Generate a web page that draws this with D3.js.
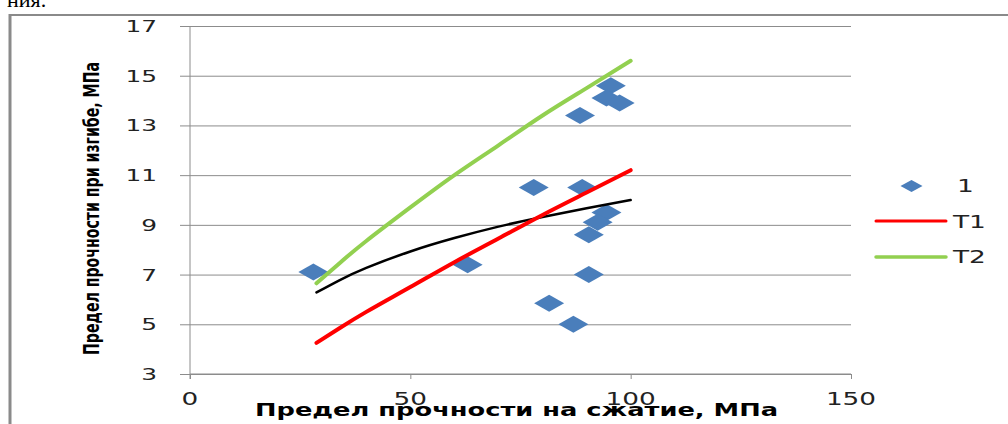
<!DOCTYPE html>
<html>
<head>
<meta charset="utf-8">
<script src="https://cdn.jsdelivr.net/npm/d3@7"></script>
<style>
  html, body { margin: 0; padding: 0; background: #fff; overflow: hidden; }
  svg { display: block; }
</style>
</head>
<body>
<svg id="chart" width="1008" height="424"></svg>
<script>
// Measured samples: compressive strength (x) vs bending strength (y), MPa
const sampleX = [28, 63, 78, 89, 94.5, 92.5, 90.5, 90.5, 81.5, 87, 95.5, 94.5, 97.5, 88.5];
const sampleY = [7.1, 7.4, 10.5, 10.5, 9.5, 9.1, 8.6, 7.0, 5.85, 5.0, 14.6, 14.1, 13.9, 13.4];

// Curves sampled along compressive strength
const curveX = [28.7, 34, 40, 50, 60, 70, 80, 90, 100];
const t1Y    = [4.25, 4.85, 5.5, 6.5, 7.5, 8.45, 9.4, 10.3, 11.2];   // T1
const t2Y    = [6.65, 7.47, 8.35, 9.7, 11.0, 12.2, 13.4, 14.5, 15.6]; // T2
const trendY = [6.28, 6.78, 7.27, 7.93, 8.47, 8.93, 9.32, 9.67, 10.0]; // trend of the samples

const xTicks = [0, 50, 100, 150];
const yTicks = [3, 5, 7, 9, 11, 13, 15, 17];
const legendLabels = ["1", "T1", "T2"];

const xTitle = "Предел прочности на сжатие, МПа";
const yTitle = "Предел прочности при изгибе, МПа";

const svg = d3.select("#chart");

const x = d3.scaleLinear().domain([0, 150]).range([190, 851]);
const y = d3.scaleLinear().domain([3, 17]).range([374, 26]);

// widen a text node horizontally by a factor
function stretch(sel, k) {
  sel.each(function () {
    const w = this.getComputedTextLength();
    d3.select(this).attr("textLength", w * k).attr("lengthAdjust", "spacingAndGlyphs");
  });
}

// text of the surrounding document, cut by the top edge
svg.append("text")
  .attr("x", 7).attr("y", 7)
  .attr("font-family", "Liberation Serif, Times New Roman, serif")
  .attr("font-size", 22)
  .attr("fill", "#000")
  .text("ния.");

// chart frame
svg.append("line").attr("x1", 10).attr("x2", 10).attr("y1", 14).attr("y2", 430)
  .attr("stroke", "#8a8a8a").attr("stroke-width", 3);
svg.append("line").attr("x1", 9).attr("x2", 1010).attr("y1", 15).attr("y2", 15)
  .attr("stroke", "#8a8a8a").attr("stroke-width", 2);

// horizontal gridlines with left tick stubs
const gy = svg.append("g").attr("transform", "translate(851,0)").call(d3.axisLeft(y)
  .tickValues(yTicks).tickSize(851 - 180).tickFormat(""));
gy.select(".domain").remove();
gy.selectAll(".tick line").attr("stroke", "#8c8c8c").attr("stroke-width", 1);

// vertical axis line
svg.append("line").attr("x1", x(0)).attr("x2", x(0)).attr("y1", y(17)).attr("y2", y(3) + 5)
  .attr("stroke", "#8c8c8c").attr("stroke-width", 1);

// bottom axis
const gx = svg.append("g").attr("transform", `translate(0,${y(3)})`)
  .call(d3.axisBottom(x).tickValues(xTicks).tickSize(5).tickFormat(""));
gx.select(".domain").attr("stroke", "#8c8c8c").attr("d", `M${x(0)},0H${x(150)}`);
gx.selectAll(".tick line").attr("stroke", "#8c8c8c");

// y tick labels
svg.append("g").selectAll("text").data(yTicks).join("text")
  .attr("x", 157).attr("y", d => y(d) + 6)
  .attr("text-anchor", "end")
  .attr("font-family", "DejaVu Sans, Verdana, sans-serif")
  .attr("font-size", 16).attr("fill", "#222")
  .text(d => d)
  .call(stretch, 1.55);

// x tick labels
svg.append("g").selectAll("text").data(xTicks).join("text")
  .attr("x", d => x(d)).attr("y", 405)
  .attr("text-anchor", "middle")
  .attr("font-family", "DejaVu Sans, Verdana, sans-serif")
  .attr("font-size", 18).attr("fill", "#222")
  .text(d => d)
  .call(stretch, 1.46);

// axis titles
svg.append("text")
  .attr("x", 255).attr("y", 416)
  .attr("font-family", "DejaVu Sans, Verdana, sans-serif")
  .attr("font-weight", "bold").attr("font-size", 18).attr("fill", "#000")
  .attr("textLength", 523).attr("lengthAdjust", "spacingAndGlyphs")
  .text(xTitle);

svg.append("text")
  .attr("transform", "translate(99,208.5) rotate(-90)")
  .attr("text-anchor", "middle")
  .attr("font-family", "Liberation Sans Narrow, DejaVu Sans Condensed, Liberation Sans, sans-serif")
  .attr("font-weight", "bold").attr("font-size", 21).attr("fill", "#000")
  .attr("textLength", 293).attr("lengthAdjust", "spacingAndGlyphs")
  .text(yTitle);

// diamond markers
const diamond = (cx, cy, hw, hh) => `M${cx - hw},${cy}L${cx},${cy - hh}L${cx + hw},${cy}L${cx},${cy + hh}Z`;
const points = sampleX.map((v, i) => ({ x: v, y: sampleY[i] }));
svg.append("g").selectAll("path").data(points).join("path")
  .attr("d", d => diamond(x(d.x), y(d.y), 15, 8.5))
  .attr("fill", "#4a7ebb");

// curves
const line = d3.line().x(d => x(d[0])).y(d => y(d[1])).curve(d3.curveNatural);
const series = [
  { ys: trendY, color: "#000000", w: 2.5 },
  { ys: t1Y, color: "#ff0000", w: 4 },
  { ys: t2Y, color: "#92d050", w: 4 }
];
svg.append("g").selectAll("path").data(series).join("path")
  .attr("d", s => line(curveX.map((v, i) => [v, s.ys[i]])))
  .attr("fill", "none")
  .attr("stroke", s => s.color)
  .attr("stroke-width", s => s.w)
  .attr("stroke-linecap", "round");

// legend
const lg = svg.append("g");
lg.append("path").attr("d", diamond(911.5, 186, 11, 6)).attr("fill", "#4a7ebb");
lg.append("line").attr("x1", 876).attr("x2", 946).attr("y1", 221).attr("y2", 221)
  .attr("stroke", "#ff0000").attr("stroke-width", 3).attr("stroke-linecap", "round");
lg.append("line").attr("x1", 876).attr("x2", 946).attr("y1", 257).attr("y2", 257)
  .attr("stroke", "#92d050").attr("stroke-width", 3.5).attr("stroke-linecap", "round");
const legendPos = [[957, 192], [953, 228], [953, 263]];
lg.selectAll("text").data(legendLabels).join("text")
  .attr("x", (d, i) => legendPos[i][0]).attr("y", (d, i) => legendPos[i][1])
  .attr("font-family", "DejaVu Sans, Verdana, sans-serif")
  .attr("font-size", 17).attr("fill", "#222")
  .text(d => d)
  .call(stretch, 1.55);
</script>
</body>
</html>
